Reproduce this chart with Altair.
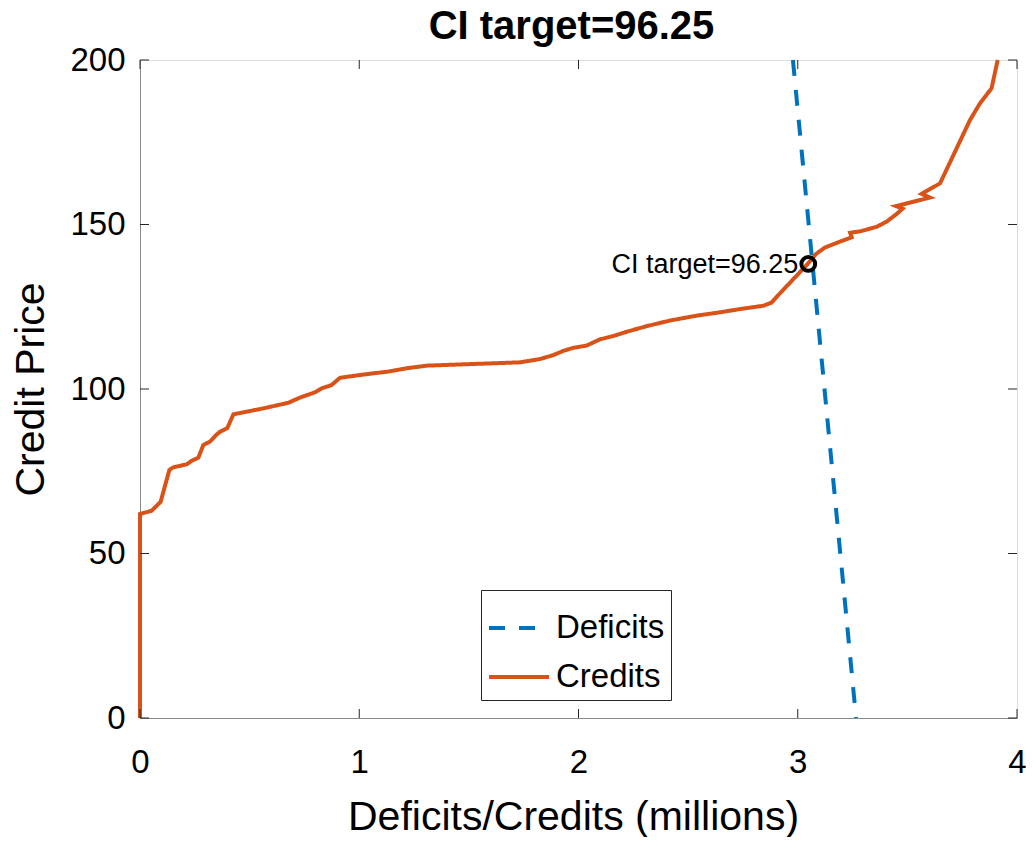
import altair as alt
import pandas as pd

FONT = "Liberation Sans"
BLUE = "#0072BD"
ORANGE = "#D95319"
INK = "#262626"

# Credits supply curve (millions, price)
credit_x = [0.0, 0.0, 0.053, 0.094, 0.134, 0.152, 0.213, 0.236, 0.266, 0.289, 0.319,
            0.347, 0.365, 0.398, 0.426, 0.562, 0.676, 0.730, 0.798, 0.829, 0.874,
            0.912, 1.019, 1.133, 1.216, 1.308, 1.733, 1.824, 1.885, 1.931, 1.976,
            2.037, 2.098, 2.159, 2.220, 2.311, 2.417, 2.539, 2.645, 2.737, 2.843,
            2.881, 2.919, 2.980, 3.041, 3.086, 3.124, 3.193, 3.246, 3.239, 3.284,
            3.360, 3.406, 3.451, 3.478, 3.448, 3.527, 3.603, 3.565, 3.649, 3.786,
            3.831, 3.884, 3.912]
credit_y = [0.0, 62.0, 63.0, 65.7, 75.4, 76.2, 77.1, 78.2, 79.1, 83.0, 84.0,
            86.0, 87.0, 88.1, 92.3, 94.1, 95.8, 97.4, 99.0, 100.2, 101.2,
            103.4, 104.4, 105.3, 106.3, 107.1, 108.1, 109.1, 110.3, 111.6, 112.5,
            113.2, 115.1, 116.1, 117.4, 119.1, 120.8, 122.3, 123.3, 124.3, 125.3,
            126.3, 129.1, 133.4, 137.7, 141.2, 143.0, 144.8, 146.1, 147.5, 147.9,
            149.3, 150.9, 153.2, 154.8, 155.6, 156.9, 158.2, 159.3, 162.5, 181.8,
            186.8, 191.4, 200.0]

# Deficits demand line
deficit_x = [2.978, 3.266]
deficit_y = [200.0, 0.0]

# Clearing point
target_x = [3.048]
target_y = [138.0]
target_label = ["CI target=96.25"]

x_ticks = [0, 1, 2, 3, 4]
y_ticks = [0, 50, 100, 150, 200]
series_names = ["Deficits", "Credits"]

W, H = 877, 658
TICK = 9

rows = []
for i, (x, y) in enumerate(zip(deficit_x, deficit_y)):
    rows.append({"series": "Deficits", "x": x, "y": y, "i": i})
for i, (x, y) in enumerate(zip(credit_x, credit_y)):
    rows.append({"series": "Credits", "x": x, "y": y, "i": i})
lines_df = pd.DataFrame(rows)

xs = alt.Scale(domain=[0, 4], nice=False, zero=False)
ys = alt.Scale(domain=[0, 200], nice=False, zero=False)

x_axis = alt.Axis(values=x_ticks, format="d", title="Deficits/Credits (millions)", ticks=False,
                  labelFontSize=33, labelPadding=54, labelBaseline="alphabetic",
                  labelFlush=False, labelOverlap=False,
                  titleFontSize=41, titleFontWeight="normal", titleBaseline="alphabetic",
                  titleY=111, titleX=433, grid=False)
y_axis = alt.Axis(values=y_ticks, format="d", title="Credit Price", ticks=False,
                  labelFontSize=33, labelPadding=15, labelFlush=False, labelOverlap=False,
                  titleFontSize=41, titleFontWeight="normal", titleBaseline="alphabetic",
                  titleX=-97, titleY=H / 2, titleAngle=270, grid=False)

color = alt.Color("series:N", scale=alt.Scale(domain=series_names, range=[BLUE, ORANGE]),
                  legend=alt.Legend(title=None, orient="none", legendX=341, legendY=530,
                                    symbolType="stroke", symbolSize=3600, symbolStrokeWidth=4,
                                    labelFontSize=33, labelFont=FONT, labelColor="black",
                                    fillColor="white", strokeColor=INK, padding=6,
                                    rowPadding=0, labelOffset=5, symbolOffset=0))
dash = alt.StrokeDash("series:N", scale=alt.Scale(domain=series_names, range=[[16, 14], [1, 0]]),
                      legend=None)

base = alt.Chart(lines_df)
deficits = base.transform_filter(alt.datum.series == "Deficits").mark_line(strokeWidth=4).encode(
    x=alt.X("x:Q", scale=xs, axis=x_axis),
    y=alt.Y("y:Q", scale=ys, axis=y_axis),
    color=color, strokeDash=dash, order="i:Q")
credits = base.transform_filter(alt.datum.series == "Credits").mark_line(strokeWidth=4).encode(
    x="x:Q", y="y:Q", color=color, strokeDash=dash, order="i:Q")

tdf = pd.DataFrame({"x": target_x, "y": target_y, "label": target_label})
point = alt.Chart(tdf).mark_point(shape="circle", filled=False, color="black",
                                  strokeWidth=4, size=190, opacity=1).encode(x="x:Q", y="y:Q")
label = alt.Chart(tdf).mark_text(align="right", baseline="middle", dx=-10, dy=1,
                                 fontSize=27, font=FONT, color="black").encode(
    x="x:Q", y="y:Q", text="label:N")

xt = alt.Chart(pd.DataFrame({"v": x_ticks}))
yt = alt.Chart(pd.DataFrame({"v": y_ticks}))
tick_style = dict(color=INK, strokeWidth=1)
ticks_bottom = xt.mark_rule(**tick_style).encode(x="v:Q", y=alt.value(H), y2=alt.value(H - TICK))
ticks_top = xt.mark_rule(**tick_style).encode(x="v:Q", y=alt.value(0), y2=alt.value(TICK))
ticks_left = yt.mark_rule(**tick_style).encode(y="v:Q", x=alt.value(0), x2=alt.value(TICK))
ticks_right = yt.mark_rule(**tick_style).encode(y="v:Q", x=alt.value(W), x2=alt.value(W - TICK))

chart = alt.layer(deficits, credits, ticks_bottom, ticks_top, ticks_left, ticks_right,
                  point, label).properties(
    width=W, height=H,
    title=alt.TitleParams("CI target=96.25", fontSize=40, fontWeight="bold", font=FONT,
                          color="black", anchor="middle", baseline="alphabetic",
                          frame="group", offset=5, dx=-7, dy=40),
    autosize=alt.AutoSizeParams(type="none"),
    padding={"left": 132, "top": 52, "right": 9, "bottom": 119},
).configure_view(stroke=INK, strokeWidth=1).configure_axis(
    labelFont=FONT, titleFont=FONT, labelColor=INK, titleColor=INK,
    domainColor=INK, domainWidth=1
).configure(background="white")

chart.save("out.html", embed_options={"renderer": "svg", "actions": False})
